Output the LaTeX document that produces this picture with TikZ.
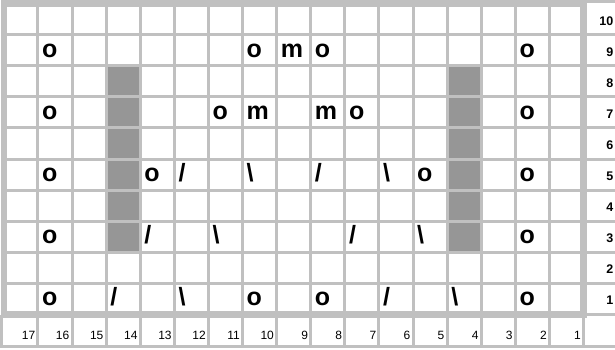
\documentclass[tikz,border=0pt]{standalone}
\usepackage{fontspec}
\setmainfont{Liberation Sans}
\definecolor{gridc}{HTML}{C0C0C0}
\definecolor{cellgray}{HTML}{969696}
\begin{document}
\begin{tikzpicture}[x=1pt,y=-1pt,
  gl/.style={draw=gridc,line width=3pt},
  sym/.style={anchor=base west,inner sep=0pt,font=\fontsize{25}{25}\selectfont\bfseries},
  rnum/.style={anchor=base east,inner sep=0pt,font=\fontsize{12.5}{13}\selectfont\bfseries},
  cnum/.style={anchor=base east,inner sep=0pt,font=\fontsize{12}{13}\selectfont}]
\useasboundingbox (0,0) rectangle (615,349);
\fill[white] (0,0) rectangle (615,349);
% shaded cells
\foreach \c in {14,4}
  \fill[fill=cellgray] ({3.8+34.1*(17-\c)},{3.5+31.1*2}) rectangle ({3.8+34.1*(18-\c)},{3.5+31.1*8});
% grid
\foreach \i in {1,...,16}
  \draw[gl] ({3.8+34.1*\i},3.5) -- ({3.8+34.1*\i},314.5);
\foreach \j in {1,...,9}
  \draw[gl] (3.8,{3.5+31.1*\j}) -- (583.5,{3.5+31.1*\j});
% row number column
\draw[gl] (583.5,1.65) -- (615,1.65);
\foreach \j in {1,...,10}
  \draw[gl] (583.5,{3.5+31.1*\j}) -- (615,{3.5+31.1*\j});
% column number row
\foreach \i in {1,...,17}
  \draw[gl] ({3.8+34.1*\i},314.5) -- ({3.8+34.1*\i},348.3);
\draw[gl] (1.35,314.5) -- (1.35,348.3);
\draw[gl] (0,346.7) -- (615,346.7);
% border
\draw[draw=gridc,line width=6.5pt] (3.8,3.5) rectangle (583.5,314.5);
% labels
\foreach \r in {1,...,10}
  \node[rnum] (r\r) at (613.5,{3.5+31.1*(10.5-\r)+6}) {\r};
\foreach \c in {1,...,17}
  \node[cnum] (c\c) at ({3.8+34.1*(18-\c)-2.5},339.5) {\c};
% symbols
\foreach \c/\r in {16/9,10/9,8/9,2/9,16/7,11/7,7/7,2/7,16/5,13/5,5/5,2/5,16/3,2/3,16/1,10/1,8/1,2/1}
  \node[sym] (o\c-\r) at ({3.8+34.1*(17-\c)+4},{3.5+31.1*(10.5-\r)+7}) {o};
\foreach \c/\r in {9/9,10/7,8/7}
  \node[sym] (m\c-\r) at ({3.8+34.1*(17-\c)+4},{3.5+31.1*(10.5-\r)+7}) {m};
\foreach \c/\r in {12/5,8/5,13/3,7/3,14/1,6/1}
  \node[sym] (s\c-\r) at ({3.8+34.1*(17-\c)+4},{3.5+31.1*(10.5-\r)+7}) {/};
\foreach \c/\r in {10/5,6/5,11/3,5/3,12/1,4/1}
  \node[sym] (b\c-\r) at ({3.8+34.1*(17-\c)+4},{3.5+31.1*(10.5-\r)+7}) {\textbackslash};
\end{tikzpicture}
\end{document}
